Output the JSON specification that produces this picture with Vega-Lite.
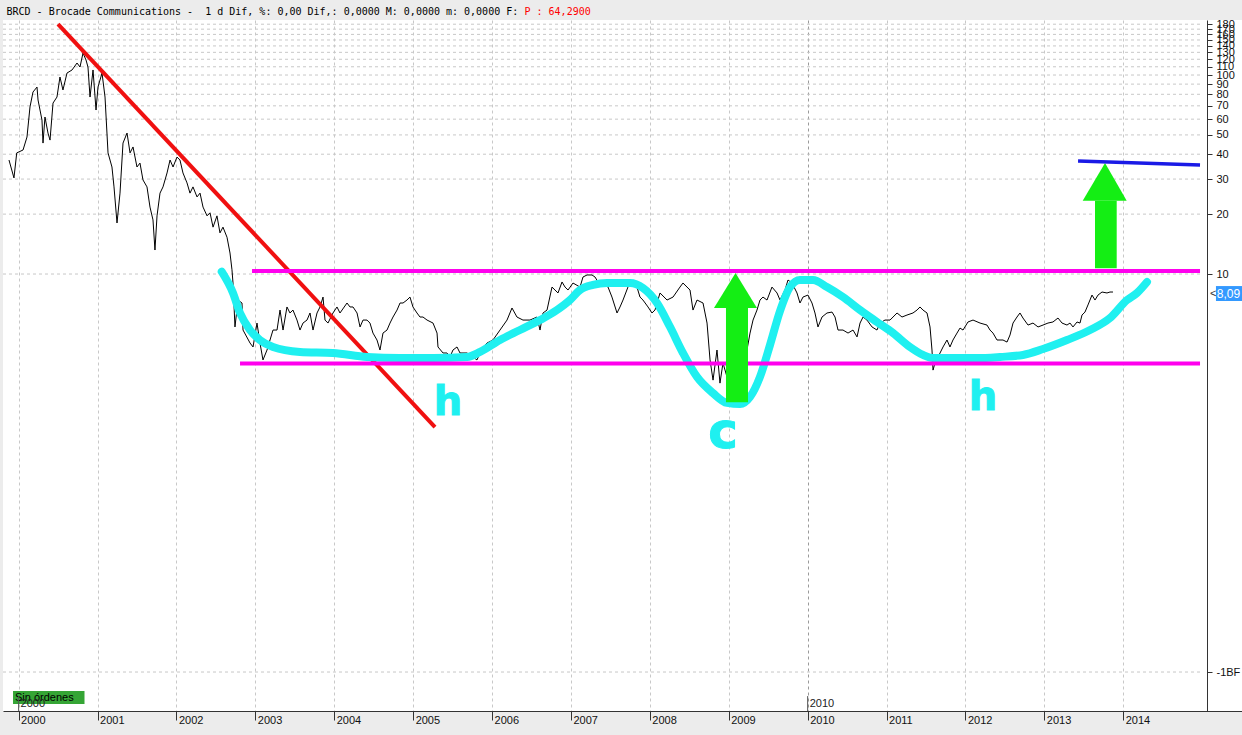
{
  "$schema": "https://vega.github.io/schema/vega-lite/v6.json",
  "width": 1239,
  "height": 691,
  "autosize": {"type": "none"},
  "padding": {"left": 3, "top": 20, "right": 0, "bottom": 24},
  "background": "#ececec",
  "config": {"view": {"fill": "white", "stroke": null}, "font": "Liberation Sans", "axis": {"grid": false}},
  "resolve": {"axis": {"x": "independent", "y": "independent"}},
  "datasets": {
    "price": [
      {"t":1999.878,"v":37.4},{"t":1999.941,"v":30.4},{"t":1999.976,"v":40.6},{"t":2000.056,"v":42.0},{"t":2000.106,"v":48.8},{"t":2000.144,"v":69.1},{"t":2000.182,"v":82.1},{"t":2000.233,"v":87.0},{"t":2000.246,"v":74.9},{"t":2000.296,"v":59.4},{"t":2000.309,"v":45.5},{"t":2000.334,"v":61.5},{"t":2000.372,"v":51.1},{"t":2000.398,"v":47.1},{"t":2000.436,"v":72.3},{"t":2000.486,"v":77.5},{"t":2000.524,"v":97.7},{"t":2000.562,"v":84.1},{"t":2000.613,"v":102.3},{"t":2000.677,"v":106.0},{"t":2000.740,"v":114.9},{"t":2000.778,"v":109.7},{"t":2000.816,"v":129.0},{"t":2000.854,"v":119.0},{"t":2000.879,"v":109.7},{"t":2000.905,"v":77.5},{"t":2000.943,"v":106.0},{"t":2000.981,"v":66.7},{"t":2001.006,"v":87.0},{"t":2001.057,"v":102.3},{"t":2001.095,"v":77.5},{"t":2001.133,"v":40.6},{"t":2001.183,"v":34.5},{"t":2001.209,"v":27.4},{"t":2001.247,"v":18.05},{"t":2001.285,"v":25.5},{"t":2001.323,"v":45.5},{"t":2001.374,"v":51.1},{"t":2001.412,"v":40.6},{"t":2001.450,"v":43.5},{"t":2001.500,"v":34.5},{"t":2001.538,"v":36.1},{"t":2001.576,"v":29.7},{"t":2001.627,"v":27.4},{"t":2001.665,"v":21.7},{"t":2001.703,"v":18.7},{"t":2001.728,"v":13.2},{"t":2001.754,"v":19.6},{"t":2001.792,"v":25.5},{"t":2001.830,"v":27.4},{"t":2001.881,"v":32.2},{"t":2001.919,"v":37.4},{"t":2001.957,"v":34.5},{"t":2002.007,"v":38.7},{"t":2002.045,"v":37.4},{"t":2002.083,"v":32.2},{"t":2002.134,"v":28.7},{"t":2002.172,"v":25.5},{"t":2002.210,"v":27.4},{"t":2002.261,"v":24.4},{"t":2002.299,"v":25.5},{"t":2002.337,"v":21.7},{"t":2002.388,"v":19.6},{"t":2002.426,"v":20.3},{"t":2002.464,"v":17.2},{"t":2002.514,"v":19.6},{"t":2002.552,"v":16.1},{"t":2002.590,"v":17.2},{"t":2002.641,"v":15.3},{"t":2002.679,"v":12.75},{"t":2002.704,"v":10.5},
      {"t":2002.717,"v":9.01},{"t":2002.742,"v":5.42},{"t":2002.780,"v":7.40},{"t":2002.831,"v":7.15},{"t":2002.844,"v":5.23},{"t":2002.933,"v":4.50},{"t":2002.971,"v":4.30},{"t":2003.021,"v":5.67},{"t":2003.059,"v":4.50},{"t":2003.097,"v":3.70},{"t":2003.148,"v":4.15},{"t":2003.186,"v":4.66},{"t":2003.224,"v":5.23},{"t":2003.275,"v":5.23},{"t":2003.313,"v":6.59},{"t":2003.351,"v":5.23},{"t":2003.401,"v":6.83},{"t":2003.439,"v":6.37},{"t":2003.477,"v":6.59},{"t":2003.528,"v":5.87},{"t":2003.566,"v":5.23},{"t":2003.604,"v":5.67},{"t":2003.655,"v":5.87},{"t":2003.693,"v":6.37},{"t":2003.731,"v":5.23},{"t":2003.782,"v":6.37},{"t":2003.820,"v":6.83},{"t":2003.858,"v":7.66},{"t":2003.883,"v":5.87},{"t":2003.921,"v":5.67},{"t":2003.984,"v":6.37},{"t":2004.035,"v":6.83},{"t":2004.073,"v":6.37},{"t":2004.162,"v":7.15},{"t":2004.200,"v":6.83},{"t":2004.238,"v":6.83},{"t":2004.289,"v":6.37},{"t":2004.327,"v":5.42},{"t":2004.365,"v":5.87},{"t":2004.415,"v":5.87},{"t":2004.453,"v":5.67},{"t":2004.491,"v":5.05},{"t":2004.542,"v":4.66},{"t":2004.580,"v":4.15},{"t":2004.618,"v":5.05},{"t":2004.669,"v":5.23},{"t":2004.707,"v":5.67},{"t":2004.745,"v":6.08},{"t":2004.796,"v":6.59},{"t":2004.834,"v":7.15},{"t":2004.872,"v":7.15},{"t":2004.922,"v":7.40},{"t":2004.960,"v":7.66},{"t":2004.998,"v":6.83},{"t":2005.049,"v":6.37},{"t":2005.087,"v":6.08},{"t":2005.125,"v":6.08},{"t":2005.176,"v":5.87},{"t":2005.252,"v":5.67},{"t":2005.303,"v":5.05},{"t":2005.315,"v":4.30},{"t":2005.379,"v":4.01},{"t":2005.429,"v":4.01},{"t":2005.467,"v":3.83},{"t":2005.505,"v":4.15},{"t":2005.556,"v":4.30},{"t":2005.594,"v":4.01},{"t":2005.683,"v":4.01},{"t":2005.759,"v":3.83},{"t":2005.809,"v":3.70},{"t":2005.848,"v":4.01},{"t":2005.886,"v":4.30},{"t":2005.936,"v":4.50},{"t":2006.012,"v":4.66},{"t":2006.101,"v":5.23},
      {"t":2006.190,"v":5.87},{"t":2006.253,"v":6.75},{"t":2006.316,"v":6.08},{"t":2006.392,"v":5.87},{"t":2006.481,"v":5.87},{"t":2006.570,"v":6.08},{"t":2006.608,"v":5.23},{"t":2006.646,"v":6.37},{"t":2006.697,"v":6.59},{"t":2006.760,"v":8.60},{"t":2006.798,"v":8.31},{"t":2006.836,"v":8.03},{"t":2006.887,"v":9.12},{"t":2006.925,"v":8.60},{"t":2006.963,"v":8.31},{"t":2007.026,"v":9.01},{"t":2007.115,"v":8.60},{"t":2007.153,"v":9.66},{"t":2007.204,"v":9.89},{"t":2007.267,"v":9.89},{"t":2007.305,"v":9.66},{"t":2007.343,"v":9.12},{"t":2007.406,"v":9.01},{"t":2007.470,"v":8.60},{"t":2007.520,"v":7.66},{"t":2007.584,"v":6.37},{"t":2007.622,"v":6.83},{"t":2007.660,"v":7.40},{"t":2007.723,"v":8.60},{"t":2007.812,"v":9.33},{"t":2007.837,"v":8.60},{"t":2007.875,"v":7.66},{"t":2007.913,"v":7.40},{"t":2007.977,"v":6.83},{"t":2008.027,"v":6.37},{"t":2008.065,"v":6.59},{"t":2008.129,"v":8.03},{"t":2008.218,"v":7.40},{"t":2008.294,"v":7.66},{"t":2008.382,"v":8.60},{"t":2008.420,"v":9.01},{"t":2008.509,"v":8.31},{"t":2008.547,"v":6.59},{"t":2008.598,"v":7.40},{"t":2008.674,"v":7.15},{"t":2008.725,"v":5.67},{"t":2008.763,"v":3.70},{"t":2008.801,"v":2.93},{"t":2008.851,"v":4.15},{"t":2008.889,"v":2.83},{"t":2008.927,"v":3.57},{"t":2008.978,"v":3.04},{"t":2009.016,"v":2.61},{"t":2009.079,"v":2.33},{"t":2009.143,"v":2.15},{"t":2009.231,"v":4.15},{"t":2009.270,"v":5.05},{"t":2009.308,"v":5.87},{"t":2009.358,"v":6.59},{"t":2009.396,"v":7.40},{"t":2009.434,"v":7.66},{"t":2009.485,"v":7.40},{"t":2009.548,"v":8.60},{"t":2009.612,"v":8.03},{"t":2009.650,"v":7.40},{"t":2009.713,"v":8.31},{"t":2009.751,"v":9.33},{"t":2009.802,"v":9.01},{"t":2009.865,"v":8.03},{"t":2009.903,"v":7.15},{"t":2009.941,"v":7.66},{"t":2010.004,"v":7.84},{"t":2010.055,"v":7.15},{"t":2010.093,"v":6.37},{"t":2010.131,"v":5.42},{"t":2010.182,"v":6.08},{"t":2010.245,"v":6.37},{"t":2010.309,"v":6.44},{"t":2010.347,"v":6.08},{"t":2010.385,"v":5.23},{"t":2010.448,"v":5.23},{"t":2010.512,"v":5.05},{"t":2010.575,"v":5.23},{"t":2010.626,"v":4.83},{"t":2010.664,"v":5.67},{"t":2010.702,"v":6.08},{"t":2010.752,"v":5.87},{"t":2010.816,"v":5.42},{"t":2010.879,"v":5.23},{"t":2010.917,"v":5.67},{"t":2010.980,"v":5.87},{"t":2011.044,"v":5.87},{"t":2011.133,"v":6.37},{"t":2011.196,"v":6.08},{"t":2011.259,"v":6.22},{"t":2011.335,"v":6.37},{"t":2011.386,"v":6.59},{"t":2011.424,"v":6.83},{"t":2011.462,"v":6.59},{"t":2011.513,"v":6.37},{"t":2011.551,"v":5.42},{"t":2011.576,"v":4.15},{"t":2011.589,"v":3.29},{"t":2011.614,"v":3.57},{"t":2011.678,"v":4.01},{"t":2011.716,"v":4.30},{"t":2011.766,"v":4.66},{"t":2011.804,"v":4.30},{"t":2011.842,"v":4.66},{"t":2011.893,"v":5.05},{"t":2011.931,"v":5.35},{"t":2011.969,"v":5.23},{"t":2012.032,"v":5.74},{"t":2012.096,"v":5.87},{"t":2012.185,"v":5.67},{"t":2012.273,"v":5.54},{"t":2012.311,"v":5.23},{"t":2012.349,"v":5.05},{"t":2012.400,"v":4.66},{"t":2012.476,"v":4.66},{"t":2012.527,"v":4.55},{"t":2012.565,"v":4.94},{"t":2012.603,"v":5.67},{"t":2012.653,"v":6.08},{"t":2012.691,"v":6.37},{"t":2012.729,"v":6.01},{"t":2012.793,"v":5.54},{"t":2012.856,"v":5.67},{"t":2012.920,"v":5.42},{"t":2012.983,"v":5.54},{"t":2013.046,"v":5.67},{"t":2013.109,"v":5.74},{"t":2013.173,"v":6.01},{"t":2013.224,"v":5.67},{"t":2013.287,"v":5.54},{"t":2013.325,"v":5.67},{"t":2013.363,"v":5.42},{"t":2013.414,"v":5.74},{"t":2013.452,"v":5.67},{"t":2013.477,"v":6.22},{"t":2013.515,"v":6.44},{"t":2013.553,"v":6.99},{"t":2013.604,"v":7.84},{"t":2013.642,"v":7.40},{"t":2013.680,"v":7.84},{"t":2013.731,"v":8.12},{"t":2013.794,"v":8.03},{"t":2013.832,"v":8.12},{"t":2013.870,"v":8.12}
    ],
    "cyan": [
      {"t":2002.574,"v":10.27},{"t":2002.717,"v":8.03},{"t":2002.806,"v":6.37},{"t":2002.933,"v":5.23},{"t":2003.059,"v":4.66},{"t":2003.224,"v":4.30},{"t":2003.566,"v":4.06},{"t":2003.984,"v":4.01},{"t":2004.415,"v":3.83},{"t":2004.834,"v":3.78},{"t":2005.252,"v":3.78},{"t":2005.683,"v":3.83},{"t":2005.848,"v":4.06},{"t":2006.101,"v":4.66},{"t":2006.354,"v":5.23},{"t":2006.608,"v":5.87},{"t":2006.823,"v":6.59},{"t":2006.988,"v":7.40},{"t":2007.115,"v":8.31},{"t":2007.280,"v":8.81},{"t":2007.457,"v":9.01},{"t":2007.749,"v":9.01},{"t":2007.913,"v":8.51},{"t":2008.091,"v":7.15},{"t":2008.256,"v":5.42},{"t":2008.420,"v":4.01},{"t":2008.598,"v":3.04},{"t":2008.801,"v":2.52},{"t":2008.978,"v":2.25},{"t":2009.143,"v":2.22},{"t":2009.270,"v":2.41},{"t":2009.396,"v":3.04},{"t":2009.523,"v":4.40},{"t":2009.650,"v":6.52},{"t":2009.777,"v":8.60},{"t":2009.903,"v":9.33},{"t":2010.068,"v":9.33},{"t":2010.245,"v":8.60},{"t":2010.448,"v":7.66},{"t":2010.664,"v":6.59},{"t":2010.879,"v":5.74},{"t":2011.082,"v":5.05},{"t":2011.297,"v":4.30},{"t":2011.462,"v":3.92},{"t":2011.589,"v":3.78},{"t":2011.842,"v":3.78},{"t":2012.146,"v":3.78},{"t":2012.438,"v":3.83},{"t":2012.729,"v":3.92},{"t":2012.983,"v":4.20},{"t":2013.287,"v":4.66},{"t":2013.579,"v":5.23},{"t":2013.832,"v":6.01},{"t":2014.048,"v":7.40},{"t":2014.174,"v":8.03},{"t":2014.301,"v":9.12}
    ],
    "redline": [{"t":2000.499,"v":180.4},{"t":2005.277,"v":1.70}],
    "blueline": [{"t":2013.427,"v":36.97},{"t":2014.973,"v":35.3}],
    "bands": [{"t":2002.958,"t2":2014.973,"v":10.35},{"t":2002.806,"t2":2014.973,"v":3.55}],
    "shafts": [{"t":2008.965,"t2":2009.244,"v":6.75,"v2":2.27},{"t":2013.642,"t2":2013.917,"v":23.35,"v2":10.68}],
    "heads": [
      {"a":1,"t":2008.813,"v":6.75,"v2":6.75},{"a":1,"t":2009.086,"v":10.12,"v2":6.75},{"a":1,"t":2009.358,"v":6.75,"v2":6.75},
      {"a":2,"t":2013.486,"v":23.35,"v2":23.35},{"a":2,"t":2013.769,"v":36.1,"v2":23.35},{"a":2,"t":2014.044,"v":23.35,"v2":23.35}
    ],
    "letters": [
      {"t":2005.442,"v":1.957,"s":"h","fs":40},
      {"t":2008.927,"v":1.335,"s":"c","fs":50},
      {"t":2012.222,"v":2.07,"s":"h","fs":40}
    ],
    "grid": [{"v":0.1},{"v":10},{"v":20},{"v":30},{"v":40},{"v":50},{"v":60},{"v":70},{"v":80},{"v":90},{"v":100},{"v":110},{"v":120},{"v":130},{"v":140},{"v":150},{"v":160},{"v":170},{"v":180}],
    "markers": [{"t":2000,"v":0.0637,"v2":0.0757,"s":"2000"},{"t":2010,"v":0.0637,"v2":0.0757,"s":"2010"}],
    "badge": [{"t":1999.929,"t2":2000.835,"v":0.0802,"v2":0.0690,"tx":1999.954,"vm":0.0744,"s":"Sin órdenes"}],
    "tag": [{"t":2015.175,"t2":2015.505,"v":8.70,"v2":7.32,"tx":2015.185,"ta":2015.10,"vm":7.98,"s":"8,09"}]
  },
  "layer": [
    {
      "data": {"name": "grid"},
      "mark": {"type": "rule", "color": "#c8c8c8", "strokeDash": [3, 3], "strokeWidth": 1},
      "encoding": {
        "x": {"datum": 1999.802, "type": "quantitative", "scale": {"type": "linear", "domain": [1999.802, 2015.505], "nice": false, "zero": false}, "axis": null},
        "x2": {"datum": 2014.975},
        "y": {"field": "v", "type": "quantitative", "scale": {"type": "log", "domain": [0.0637, 189.0], "nice": false}, "axis": null}
      }
    },
    {
      "data": {"name": "price"},
      "mark": {"type": "line", "color": "#000000", "strokeWidth": 1},
      "encoding": {
        "x": {"field": "t", "type": "quantitative", "scale": {"type": "linear", "domain": [1999.802, 2015.505], "nice": false, "zero": false},
          "axis": {"orient": "bottom", "values": [2000,2001,2002,2003,2004,2005,2006,2007,2008,2009,2010,2011,2012,2013,2014], "format": "d", "title": null,
            "labelAlign": "left", "labelOffset": 2, "labelBaseline": "top", "labelPadding": -6, "labelFontSize": 11, "labelColor": "#111111", "labelFlush": false, "labelOverlap": false,
            "tickSize": 9, "tickColor": "#333333", "domainColor": "#333333",
            "grid": true, "gridDash": [3, 3], "gridColor": {"condition": {"test": "datum.value === 2010", "value": "#9a9a9a"}, "value": "#c8c8c8"}}},
        "y": {"field": "v", "type": "quantitative", "scale": {"type": "log", "domain": [0.0637, 189.0], "nice": false},
          "axis": {"orient": "right", "offset": -35, "values": [0.1,10,20,30,40,50,60,70,80,90,100,110,120,130,140,150,160,170,180], "title": null,
            "labelExpr": "datum.value < 1 ? '-1BF' : format(datum.value, 'd')", "labelOverlap": false, "labelBound": false, "labelFlush": false,
            "labelFontSize": 11, "labelColor": "#111111", "labelPadding": 4, "tickSize": 5, "tickColor": "#333333", "domainColor": "#333333", "grid": false}}
      }
    },
    {
      "data": {"name": "redline"},
      "mark": {"type": "line", "color": "#f01010", "strokeWidth": 4},
      "encoding": {
        "x": {"field": "t", "type": "quantitative", "scale": {"type": "linear", "domain": [1999.802, 2015.505], "nice": false, "zero": false},
          "axis": {"orient": "top", "labels": false, "ticks": false, "domain": false, "grid": false, "title": "P : 64,2900", "titleColor": "#ff0000",
            "titleFont": "DejaVu Sans Mono", "titleFontSize": 10, "titleFontWeight": "normal", "titleAnchor": "start", "titleAlign": "left", "titleX": 521, "titleY": -6, "titleBaseline": "alphabetic"}},
        "y": {"field": "v", "type": "quantitative", "scale": {"type": "log", "domain": [0.0637, 189.0], "nice": false}, "axis": null}
      }
    },
    {
      "data": {"name": "cyan"},
      "mark": {"type": "line", "color": "#1ff0f0", "strokeWidth": 8, "strokeCap": "round", "strokeJoin": "round", "interpolate": "monotone"},
      "encoding": {
        "x": {"field": "t", "type": "quantitative", "scale": {"type": "linear", "domain": [1999.802, 2015.505], "nice": false, "zero": false},
          "axis": {"orient": "top", "labels": false, "ticks": false, "domain": false, "grid": false, "title": "BRCD - Brocade Communications -\u00a0\u00a01 d Dif, %: 0,00 Dif,: 0,0000 M: 0,0000 m: 0,0000 F:", "titleColor": "#000000",
            "titleFont": "DejaVu Sans Mono", "titleFontSize": 10, "titleFontWeight": "normal", "titleAnchor": "start", "titleAlign": "left", "titleX": 3, "titleY": -6, "titleBaseline": "alphabetic"}},
        "y": {"field": "v", "type": "quantitative", "scale": {"type": "log", "domain": [0.0637, 189.0], "nice": false}, "axis": null}
      }
    },
    {
      "data": {"name": "bands"},
      "mark": {"type": "rule", "color": "#ff00ee", "strokeWidth": 4},
      "encoding": {
        "x": {"field": "t", "type": "quantitative", "scale": {"type": "linear", "domain": [1999.802, 2015.505], "nice": false, "zero": false}, "axis": null},
        "x2": {"field": "t2"},
        "y": {"field": "v", "type": "quantitative", "scale": {"type": "log", "domain": [0.0637, 189.0], "nice": false}, "axis": null}
      }
    },
    {
      "data": {"name": "shafts"},
      "mark": {"type": "rect", "color": "#14ee14"},
      "encoding": {
        "x": {"field": "t", "type": "quantitative", "scale": {"type": "linear", "domain": [1999.802, 2015.505], "nice": false, "zero": false}, "axis": null},
        "x2": {"field": "t2"},
        "y": {"field": "v", "type": "quantitative", "scale": {"type": "log", "domain": [0.0637, 189.0], "nice": false}, "axis": null},
        "y2": {"field": "v2"}
      }
    },
    {
      "data": {"name": "heads"},
      "mark": {"type": "area", "color": "#14ee14", "opacity": 1},
      "encoding": {
        "x": {"field": "t", "type": "quantitative", "scale": {"type": "linear", "domain": [1999.802, 2015.505], "nice": false, "zero": false}, "axis": null},
        "y": {"field": "v", "type": "quantitative", "stack": null, "scale": {"type": "log", "domain": [0.0637, 189.0], "nice": false}, "axis": null},
        "y2": {"field": "v2"},
        "detail": {"field": "a", "type": "nominal"}
      }
    },
    {
      "data": {"name": "blueline"},
      "mark": {"type": "line", "color": "#1a1ae6", "strokeWidth": 3.5},
      "encoding": {
        "x": {"field": "t", "type": "quantitative", "scale": {"type": "linear", "domain": [1999.802, 2015.505], "nice": false, "zero": false}, "axis": null},
        "y": {"field": "v", "type": "quantitative", "scale": {"type": "log", "domain": [0.0637, 189.0], "nice": false}, "axis": null}
      }
    },
    {
      "data": {"name": "letters"},
      "mark": {"type": "text", "align": "center", "baseline": "alphabetic", "font": "DejaVu Sans", "fontWeight": "bold", "color": "#1ff0f0", "stroke": "#1ff0f0", "strokeWidth": 1},
      "encoding": {
        "x": {"field": "t", "type": "quantitative", "scale": {"type": "linear", "domain": [1999.802, 2015.505], "nice": false, "zero": false}, "axis": null},
        "y": {"field": "v", "type": "quantitative", "scale": {"type": "log", "domain": [0.0637, 189.0], "nice": false}, "axis": null},
        "text": {"field": "s"},
        "size": {"field": "fs", "type": "quantitative", "scale": null}
      }
    },
    {
      "data": {"name": "badge"},
      "mark": {"type": "rect", "color": "#35a535"},
      "encoding": {
        "x": {"field": "t", "type": "quantitative", "scale": {"type": "linear", "domain": [1999.802, 2015.505], "nice": false, "zero": false}, "axis": null},
        "x2": {"field": "t2"},
        "y": {"field": "v", "type": "quantitative", "scale": {"type": "log", "domain": [0.0637, 189.0], "nice": false}, "axis": null},
        "y2": {"field": "v2"}
      }
    },
    {
      "data": {"name": "badge"},
      "mark": {"type": "text", "align": "left", "baseline": "middle", "fontSize": 11, "color": "#000000"},
      "encoding": {
        "x": {"field": "tx", "type": "quantitative", "scale": {"type": "linear", "domain": [1999.802, 2015.505], "nice": false, "zero": false}, "axis": null},
        "y": {"field": "vm", "type": "quantitative", "scale": {"type": "log", "domain": [0.0637, 189.0], "nice": false}, "axis": null},
        "text": {"field": "s"}
      }
    },
    {
      "data": {"name": "markers"},
      "mark": {"type": "rule", "color": "#555555", "strokeWidth": 1},
      "encoding": {
        "x": {"field": "t", "type": "quantitative", "scale": {"type": "linear", "domain": [1999.802, 2015.505], "nice": false, "zero": false}, "axis": null},
        "y": {"field": "v", "type": "quantitative", "scale": {"type": "log", "domain": [0.0637, 189.0], "nice": false}, "axis": null},
        "y2": {"field": "v2"}
      }
    },
    {
      "data": {"name": "markers"},
      "mark": {"type": "text", "align": "left", "baseline": "bottom", "dx": 2, "dy": -2, "fontSize": 11, "color": "#222222"},
      "encoding": {
        "x": {"field": "t", "type": "quantitative", "scale": {"type": "linear", "domain": [1999.802, 2015.505], "nice": false, "zero": false}, "axis": null},
        "y": {"field": "v", "type": "quantitative", "scale": {"type": "log", "domain": [0.0637, 189.0], "nice": false}, "axis": null},
        "text": {"field": "s"}
      }
    },
    {
      "data": {"name": "tag"},
      "mark": {"type": "rect", "color": "#3399ff"},
      "encoding": {
        "x": {"field": "t", "type": "quantitative", "scale": {"type": "linear", "domain": [1999.802, 2015.505], "nice": false, "zero": false}, "axis": null},
        "x2": {"field": "t2"},
        "y": {"field": "v", "type": "quantitative", "scale": {"type": "log", "domain": [0.0637, 189.0], "nice": false}, "axis": null},
        "y2": {"field": "v2"}
      }
    },
    {
      "data": {"name": "tag"},
      "mark": {"type": "text", "align": "left", "baseline": "middle", "fontSize": 12, "color": "#ffffff"},
      "encoding": {
        "x": {"field": "tx", "type": "quantitative", "scale": {"type": "linear", "domain": [1999.802, 2015.505], "nice": false, "zero": false}, "axis": null},
        "y": {"field": "vm", "type": "quantitative", "scale": {"type": "log", "domain": [0.0637, 189.0], "nice": false}, "axis": null},
        "text": {"field": "s"}
      }
    },
    {
      "data": {"name": "tag"},
      "mark": {"type": "text", "align": "left", "baseline": "middle", "fontSize": 11, "color": "#333333", "text": "<"},
      "encoding": {
        "x": {"field": "ta", "type": "quantitative", "scale": {"type": "linear", "domain": [1999.802, 2015.505], "nice": false, "zero": false}, "axis": null},
        "y": {"field": "vm", "type": "quantitative", "scale": {"type": "log", "domain": [0.0637, 189.0], "nice": false}, "axis": null}
      }
    }
  ]
}
